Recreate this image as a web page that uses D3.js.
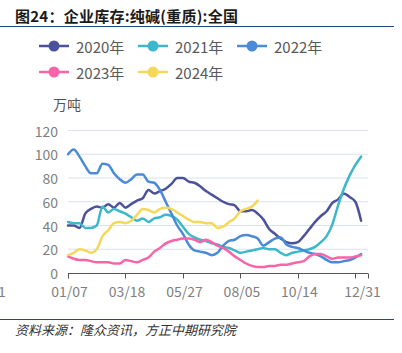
<!DOCTYPE html>
<html>
<head>
<meta charset="utf-8">
<script src="https://cdn.jsdelivr.net/npm/d3@7"></script>
<style>
  body { margin: 0; background: #fff; }
  svg { display: block; font-family: "Noto Sans CJK SC", "Noto Sans", sans-serif; }
</style>
</head>
<body>
<div id="chart"></div>
<script>
// weekly points, index 0 = 01/07, index 51 = 12/31
const tickIndex = [0, 10, 20, 30, 40, 51];
const tickLabels = ["01/07", "03/18", "05/27", "08/05", "10/14", "12/31"];
const yTicks = [0, 20, 40, 60, 80, 100, 120];

const seriesNames = ["2020年", "2021年", "2022年", "2023年", "2024年"];
const seriesColors = ["#4b529b", "#3cb8ca", "#4a8bd8", "#f665a9", "#f4d85a"];

const v2020 = [40, 40, 38, 50, 54, 56, 55, 58, 55, 59, 55, 58, 61, 63, 70, 67, 69, 71, 75, 80,
  80, 77, 76, 73, 69, 66, 63, 60, 58, 57, 52, 52, 53, 50, 45, 37, 33, 29, 26, 25,
  26, 31, 37, 43, 48, 52, 59, 62, 67, 64, 60, 44];
const v2021 = [43, 42, 42, 38, 38, 40, 56, 51, 54, 52, 50, 47, 44, 46, 43, 46, 47, 49, 48, 45,
  39, 33, 30, 28, 27, 25, 24, 22, 21, 19, 17, 18, 19, 20, 21, 20, 20, 17, 15, 17,
  18, 19, 20, 22, 26, 31, 41, 57, 71, 82, 91, 98];
const v2022 = [100, 104, 98, 90, 84, 84, 92, 91, 84, 79, 76, 79, 83, 83, 77, 76, 70, 60, 50, 40,
  33, 24, 19, 18, 17, 15, 17, 23, 27, 28, 31, 32, 31, 29, 23, 26, 29, 30, 24, 22,
  21, 19, 17, 16, 14, 11, 9, 9, 10, 11, 13, 16];
const v2023 = [14, 12, 11, 11, 10, 9, 9, 9, 8, 8, 11, 10, 9, 11, 13, 18, 21, 25, 27, 28,
  29, 29, 28, 26, 28, 26, 23, 21, 18, 14, 11, 8, 6, 5, 5, 6, 6, 7, 7, 8,
  9, 10, 14, 16, 16, 14, 12, 13, 13, 13, 14, 15];
const v2024 = [15, 17, 20, 19, 17, 20, 31, 36, 42, 43, 42, 44, 49, 54, 53, 51, 54, 55, 54, 51,
  48, 45, 43, 43, 42, 42, 38, 39, 43, 46, 52, 54, 56, 61];

const seriesValues = [v2020, v2021, v2022, v2023, v2024];

const W = 402, H = 353;
const svg = d3.select("#chart").append("svg")
  .attr("width", W).attr("height", H);

// header
svg.append("text")
  .attr("x", 15).attr("y", 22)
  .attr("font-size", 15).attr("font-weight", "bold").attr("fill", "#1a1a1a")
  .attr("textLength", 223).attr("lengthAdjust", "spacing")
  .text("图24：企业库存:纯碱(重质):全国");
svg.append("line")
  .attr("x1", 0).attr("x2", 394).attr("y1", 26.5).attr("y2", 26.5)
  .attr("stroke", "#1f4e79").attr("stroke-width", 1);

// scales
const x = d3.scaleLinear().domain([0, 52.2]).range([68, 368]);
const y = d3.scaleLinear().domain([0, 120]).range([273, 130.5]);

// grid
svg.append("g").selectAll("line")
  .data(yTicks.filter(d => d > 0))
  .enter().append("line")
  .attr("x1", x(0)).attr("x2", x(52.2))
  .attr("y1", d => y(d)).attr("y2", d => y(d))
  .attr("stroke", "#dbe1ee").attr("stroke-width", 1);

// y labels
svg.append("g").selectAll("text")
  .data(yTicks)
  .enter().append("text")
  .attr("x", 58).attr("y", d => y(d))
  .attr("text-anchor", "end").attr("dominant-baseline", "central")
  .attr("font-size", 14).attr("fill", "#7f7f7f")
  .text(d => d);

svg.append("text")
  .attr("x", 67).attr("y", 104)
  .attr("text-anchor", "middle").attr("dominant-baseline", "central")
  .attr("font-size", 14).attr("fill", "#555")
  .text("万吨");

// x axis
const xAxis = svg.append("g").attr("transform", `translate(0,${y(0) + 0.5})`);
xAxis.append("line")
  .attr("x1", x(0)).attr("x2", x(52.2))
  .attr("stroke", "#555").attr("stroke-width", 1);
xAxis.selectAll(".tick")
  .data([0, 10, 20, 30, 40, 50, 52.2])
  .enter().append("line")
  .attr("x1", d => Math.round(x(d)) + 0.5).attr("x2", d => Math.round(x(d)) + 0.5)
  .attr("y1", 0).attr("y2", 5)
  .attr("stroke", "#555").attr("stroke-width", 1);
xAxis.selectAll("text")
  .data(tickIndex)
  .enter().append("text")
  .attr("x", d => x(d) + 1.5).attr("y", 23)
  .attr("text-anchor", "middle")
  .attr("font-size", 14).attr("fill", "#7f7f7f")
  .text((d, i) => tickLabels[i]);

// leftover label fragment at the left edge
svg.append("text")
  .attr("x", -2).attr("y", y(0) + 23.5)
  .attr("font-size", 14).attr("fill", "#7f7f7f")
  .text("1");

// lines
const line = d3.line()
  .x((d, i) => x(i))
  .y(d => y(d))
  .curve(d3.curveMonotoneX);

svg.append("g").selectAll("path")
  .data(seriesValues)
  .enter().append("path")
  .attr("d", d => line(d))
  .attr("fill", "none")
  .attr("stroke", (d, i) => seriesColors[i])
  .attr("stroke-width", 2.5)
  .attr("stroke-linejoin", "round")
  .attr("stroke-linecap", "round");

// legend
const legendPos = [[39, 46], [138, 46], [237, 46], [39, 72], [138, 72]];
const legend = svg.append("g").selectAll("g")
  .data(seriesNames)
  .enter().append("g")
  .attr("transform", (d, i) => `translate(${legendPos[i][0]},${legendPos[i][1]})`);
legend.append("line")
  .attr("x1", 0).attr("x2", 30)
  .attr("stroke", (d, i) => seriesColors[i]).attr("stroke-width", 2.5);
legend.append("circle")
  .attr("cx", 15).attr("r", 5.5)
  .attr("fill", (d, i) => seriesColors[i]);
legend.append("text")
  .attr("x", 37).attr("dominant-baseline", "central")
  .attr("font-size", 15).attr("fill", "#595959")
  .text(d => d);

// footer
svg.append("line")
  .attr("x1", 0).attr("x2", 394).attr("y1", 319.5).attr("y2", 319.5)
  .attr("stroke", "#1f4e79").attr("stroke-width", 1);
svg.append("text")
  .attr("x", 15).attr("y", 335)
  .attr("font-size", 13).attr("font-style", "italic").attr("fill", "#333")
  .text("资料来源：隆众资讯，方正中期研究院");
</script>
</body>
</html>
